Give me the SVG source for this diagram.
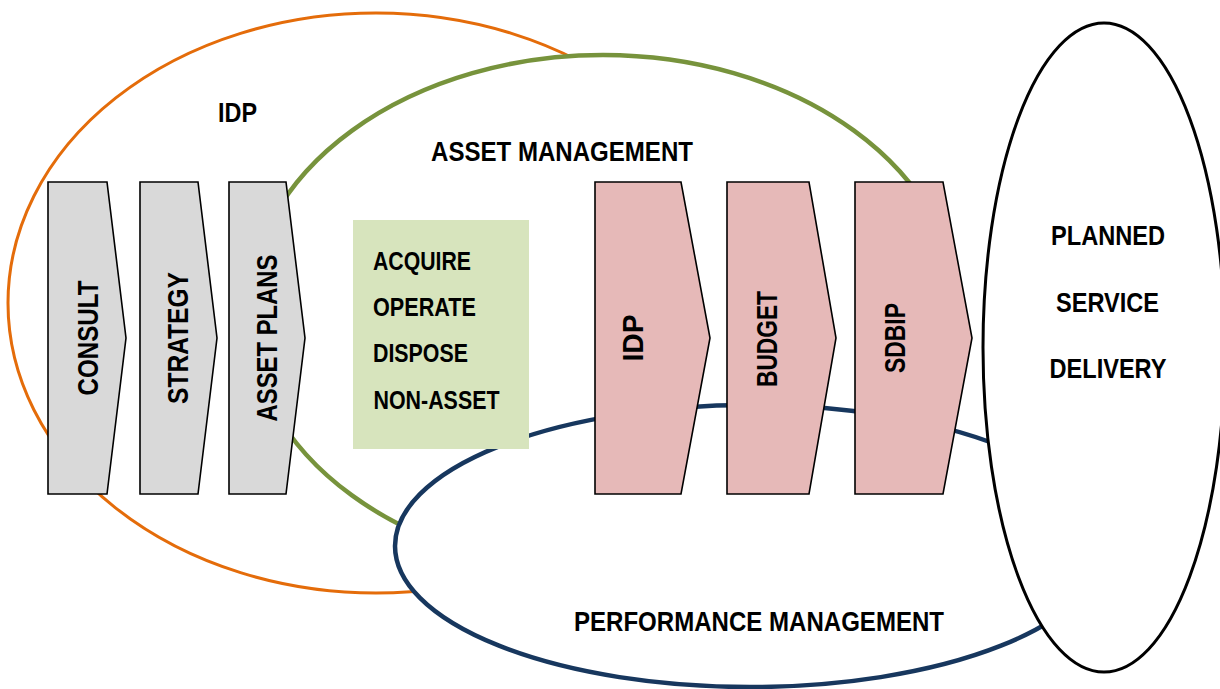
<svg xmlns="http://www.w3.org/2000/svg" width="1220" height="689" viewBox="0 0 1220 689">
  <style>
    .t { font-family: "Liberation Sans Narrow", "Liberation Sans", Arial, sans-serif; font-weight: bold; fill: #000; }
    .h28 { font-size: 28px; }
    .h25 { font-size: 25px; }
    .r29 { font-size: 29px; text-anchor: middle; }
    .grey { fill: #D9D9D9; stroke: #000; stroke-width: 1.6; stroke-linejoin: miter; }
    .pink { fill: #E6B9B8; stroke: #000; stroke-width: 1.6; stroke-linejoin: miter; }
  </style>
  <rect x="0" y="0" width="1220" height="689" fill="#FFFFFF"/>

  <g id="idp-region">
    <ellipse cx="376" cy="303" rx="368" ry="290" fill="#FFFFFF" stroke="#E46C0A" stroke-width="3"/>
    <text class="t h28" x="218" y="122" textLength="39" lengthAdjust="spacingAndGlyphs">IDP</text>
  </g>

  <g id="asset-management-region">
    <ellipse cx="603" cy="313" rx="355" ry="258" fill="#FFFFFF" stroke="#77933C" stroke-width="4.5"/>
    <text class="t h28" x="431" y="161" textLength="262" lengthAdjust="spacingAndGlyphs">ASSET MANAGEMENT</text>
  </g>

  <g id="performance-management-region">
    <ellipse cx="750" cy="546" rx="355" ry="141" fill="#FFFFFF" stroke="#17375E" stroke-width="4.5"/>
    <text class="t h28" x="574" y="631" textLength="370" lengthAdjust="spacingAndGlyphs">PERFORMANCE MANAGEMENT</text>
  </g>

  <g id="planned-service-delivery">
    <ellipse cx="1104" cy="347.5" rx="121" ry="324.5" fill="#FFFFFF" stroke="#000000" stroke-width="3"/>
    <text class="t h28" x="1051" y="245" textLength="114" lengthAdjust="spacingAndGlyphs">PLANNED</text>
    <text class="t h28" x="1056" y="311.5" textLength="103" lengthAdjust="spacingAndGlyphs">SERVICE</text>
    <text class="t h28" x="1049.5" y="378" textLength="117" lengthAdjust="spacingAndGlyphs">DELIVERY</text>
  </g>

  <g id="consult">
    <polygon class="grey" points="48,182 107,182 126,338 107,494 48,494"/>
    <text class="t r29" transform="translate(98,338) rotate(-90)" x="0" y="0" textLength="115" lengthAdjust="spacingAndGlyphs">CONSULT</text>
  </g>
  <g id="strategy">
    <polygon class="grey" points="140,182 198,182 217,338 198,494 140,494"/>
    <text class="t r29" transform="translate(188,338) rotate(-90)" x="0" y="0" textLength="132" lengthAdjust="spacingAndGlyphs">STRATEGY</text>
  </g>
  <g id="asset-plans">
    <polygon class="grey" points="229,182 286,182 305,338 286,494 229,494"/>
    <text class="t r29" transform="translate(277,338) rotate(-90)" x="0" y="0" textLength="167" lengthAdjust="spacingAndGlyphs">ASSET PLANS</text>
  </g>

  <g id="asset-activities">
    <rect x="353" y="220" width="176" height="229" fill="#D7E4BD"/>
    <text class="t h25" x="373" y="270" textLength="98" lengthAdjust="spacingAndGlyphs">ACQUIRE</text>
    <text class="t h25" x="373" y="316" textLength="103" lengthAdjust="spacingAndGlyphs">OPERATE</text>
    <text class="t h25" x="373" y="362" textLength="95" lengthAdjust="spacingAndGlyphs">DISPOSE</text>
    <text class="t h25" x="373.5" y="408.5" textLength="126" lengthAdjust="spacingAndGlyphs">NON-ASSET</text>
  </g>

  <g id="idp-step">
    <polygon class="pink" points="595,182 681,182 710,338 681,494 595,494"/>
    <text class="t r29" transform="translate(643,338) rotate(-90)" x="0" y="0" textLength="47" lengthAdjust="spacingAndGlyphs">IDP</text>
  </g>
  <g id="budget">
    <polygon class="pink" points="727,182 809,182 836,338 809,494 727,494"/>
    <text class="t r29" transform="translate(776.5,339) rotate(-90)" x="0" y="0" textLength="96" lengthAdjust="spacingAndGlyphs">BUDGET</text>
  </g>
  <g id="sdbip">
    <polygon class="pink" points="855,182 943,182 972,338 943,494 855,494"/>
    <text class="t r29" transform="translate(904.5,338) rotate(-90)" x="0" y="0" textLength="70" lengthAdjust="spacingAndGlyphs">SDBIP</text>
  </g>
</svg>
